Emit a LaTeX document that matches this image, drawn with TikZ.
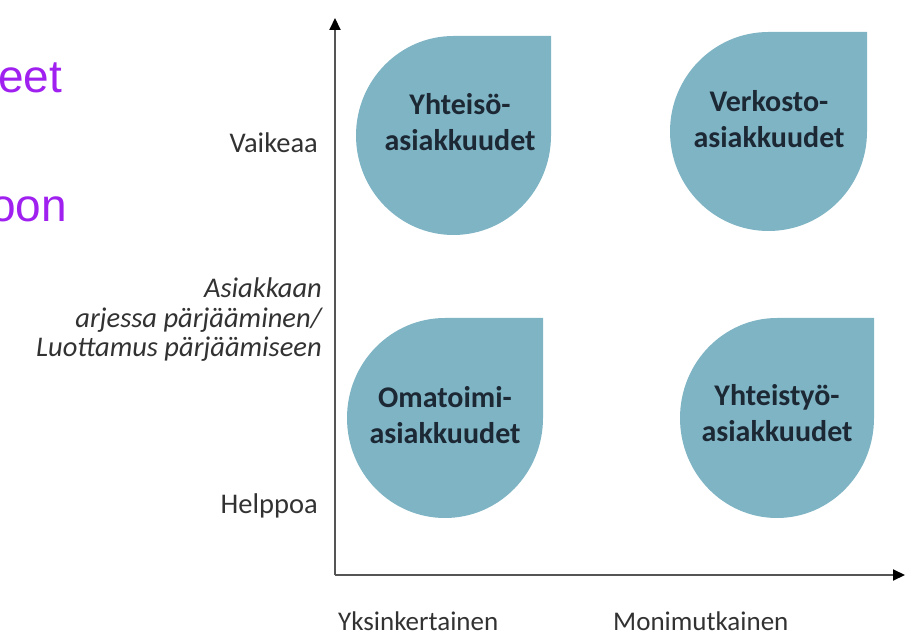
\documentclass[tikz,border=0pt]{standalone}
\usepackage{fontspec}
\setmainfont{Carlito}
\newfontfamily\arialfont{Liberation Sans}
\usetikzlibrary{arrows.meta}
\definecolor{pisara}{RGB}{127,180,197}
\definecolor{pisarateksti}{RGB}{28,40,52}
\definecolor{violetti}{RGB}{160,32,240}
\definecolor{akseli}{RGB}{85,85,85}
\definecolor{nimiteksti}{RGB}{50,50,50}

\begin{document}
\begin{tikzpicture}[x=1pt,y=1pt,
  akseli/.style={line width=2pt,draw=akseli,-{Triangle[length=12pt,width=11pt,black]}},
  pisarateksti/.style={font=\fontsize{30}{36}\selectfont\bfseries,text=pisarateksti,align=center,inner sep=0pt},
  nimi/.style={font=\fontsize{28.5}{30}\selectfont,text=nimiteksti,inner sep=0pt},
  violetti teksti/.style={font=\arialfont\fontsize{46}{50}\selectfont,text=violetti,inner sep=0pt,anchor=base west}]
\useasboundingbox (0,0) rectangle (907,640);
% pisarat
\fill[pisara] (453.5,604)--(551,604)--(551,504.5) arc[start angle=0,end angle=-270,x radius=97.5,y radius=99.5]--cycle;
\fill[pisara] (768.5,608)--(867,608)--(867,508.5) arc[start angle=0,end angle=-270,x radius=98.5,y radius=99.5]--cycle;
\fill[pisara] (445,322)--(543,322)--(543,222) arc[start angle=0,end angle=-270,x radius=98,y radius=100]--cycle;
\fill[pisara] (777,322)--(874,322)--(874,222) arc[start angle=0,end angle=-270,x radius=97,y radius=100]--cycle;
\node[pisarateksti] (yhteiso) at (460,518) {Yhteisö-\\asiakkuudet};
\node[pisarateksti] (verkosto) at (769,521) {Verkosto-\\asiakkuudet};
\node[pisarateksti] (omatoimi) at (445,225) {Omatoimi-\\asiakkuudet};
\node[pisarateksti] (yhteistyo) at (777,227) {Yhteistyö-\\asiakkuudet};
% akselit
\coordinate (origo) at (335,65);
\coordinate (ylos) at (335,622);
\coordinate (oikealle) at (905,65);
\draw[akseli] (origo)--(ylos);
\draw[akseli] (origo)--(oikealle);
\node[nimi,anchor=base east] (vaikeaa) at (318,487) {Vaikeaa};
\node[nimi,anchor=base east] (helppoa) at (318,127) {Helppoa};
\node[nimi,anchor=east,align=right,font=\fontsize{28.5}{29.5}\selectfont\itshape] (parjaaminen) at (322,320) {Asiakkaan\\arjessa pärjääminen/\\Luottamus pärjäämiseen};
\node[nimi,font=\fontsize{27}{28}\selectfont,anchor=base west] (yksinkertainen) at (338,10) {Yksinkertainen};
\node[nimi,font=\fontsize{27}{28}\selectfont,anchor=base west] (monimutkainen) at (613,10) {Monimutkainen};
% violetti teksti reunassa
\node[violetti teksti] (eet) at (-2,547) {eet};
\node[violetti teksti] (oon) at (-10,418) {oon};
\end{tikzpicture}
\end{document}
